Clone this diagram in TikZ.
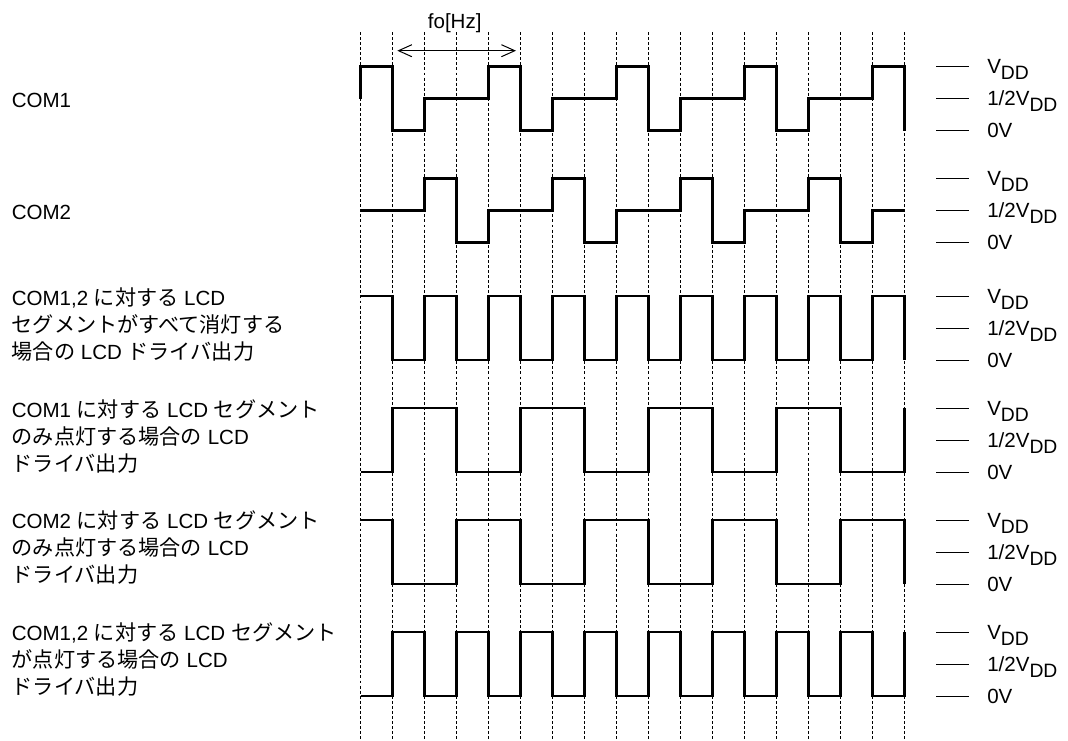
\documentclass[tikz,border=0pt]{standalone}
\usepackage{fontspec}
\setmainfont{Liberation Sans}
\newfontfamily\cjk[Scale=1.03]{Noto Sans CJK JP}
\usetikzlibrary{arrows.meta}
\newcommand\jp[1]{{\cjk #1}}
\newcommand\vdd{V\raisebox{-4.5pt}{\fontsize{14.5pt}{14.5pt}\selectfont DD}}
\begin{document}
\begin{tikzpicture}[x=0.75pt,y=-0.75pt,
  lbl/.style={inner sep=0pt, anchor=base west, font=\fontsize{15.4pt}{20.25pt}\selectfont},
  vlbl/.style={inner sep=0pt, anchor=base west, font=\fontsize{15.4pt}{18pt}\selectfont},
  wave/.style={line width=1.9pt, line join=miter},
  gridline/.style={line width=0.6pt, dash pattern=on 2.2pt off 1.6pt},
  tickline/.style={line width=0.75pt},
  barb/.tip={Straight Barb[length=10pt,width=9pt]}]
\useasboundingbox (0,0) rectangle (1068,740);
\fill[white] (0,0) rectangle (1068,740);

% dashed time grid
\foreach \k in {0,...,17} \draw[gridline] (360.5+32*\k,32) -- (360.5+32*\k,740);

% level ticks and labels
\foreach \r/\t in {1/66.5, 2/178.5, 3/296, 4/408, 5/520, 6/632}{
  \draw[tickline] (936,\t) -- (968.5,\t);
  \draw[tickline] (936,\t+32) -- (968.5,\t+32);
  \draw[tickline] (936,\t+64) -- (968.5,\t+64);
  \node[vlbl] (vdd\r) at (987,\t+7.3) {\vdd};
  \node[vlbl] (half\r) at (987,\t+39.3) {1/2\vdd};
  \node[vlbl] (zero\r) at (987,\t+71.3) {0V};
}

% waveforms
\begin{scope}[shift={(360.5,66.5)}, x=24pt, y=-24pt]
  \draw[wave] (0,1) -- (0,0) -| (1,2) -| (2,1) -| (4,0) -| (5,2) -| (6,1) -| (8,0) -| (9,2) -| (10,1) -| (12,0) -| (13,2) -| (14,1) -| (16,0) -| (17,2);
\end{scope}
\begin{scope}[shift={(360.5,178.5)}, x=24pt, y=-24pt]
  \draw[wave] (0,1) -| (2,0) -| (3,2) -| (4,1) -| (6,0) -| (7,2) -| (8,1) -| (10,0) -| (11,2) -| (12,1) -| (14,0) -| (15,2) -| (16,1) -- (17,1);
\end{scope}
\begin{scope}[shift={(360.5,296)}, x=24pt, y=-24pt]
  \draw[wave] (0,0) -| (1,2) -| (2,0) -| (3,2) -| (4,0) -| (5,2) -| (6,0) -| (7,2) -| (8,0) -| (9,2) -| (10,0) -| (11,2) -| (12,0) -| (13,2) -| (14,0) -| (15,2) -| (16,0) -| (17,2);
\end{scope}
\begin{scope}[shift={(360.5,408)}, x=24pt, y=-24pt]
  \draw[wave] (0,2) -| (1,0) -| (3,2) -| (5,0) -| (7,2) -| (9,0) -| (11,2) -| (13,0) -| (15,2) -| (17,0);
\end{scope}
\begin{scope}[shift={(360.5,520)}, x=24pt, y=-24pt]
  \draw[wave] (0,0) -| (1,2) -| (3,0) -| (5,2) -| (7,0) -| (9,2) -| (11,0) -| (13,2) -| (15,0) -| (17,2);
\end{scope}
\begin{scope}[shift={(360.5,632)}, x=24pt, y=-24pt]
  \draw[wave] (0,2) -| (1,0) -| (2,2) -| (3,0) -| (4,2) -| (5,0) -| (6,2) -| (7,0) -| (8,2) -| (9,0) -| (10,2) -| (11,0) -| (12,2) -| (13,0) -| (14,2) -| (15,0) -| (16,2) -| (17,0);
\end{scope}

% period arrow
\coordinate (fa) at (397.3,50.7);
\coordinate (fb) at (516,50.7);
\draw[line width=0.75pt, barb-barb] (fa) -- (fb);
\node[lbl, anchor=base] (fo) at (454.7,28.3) {fo[Hz]};

% row labels
\node[lbl] (c1) at (11.5,107.5) {COM1};
\node[lbl] (c2) at (11.5,219.3) {COM2};
\node[lbl] (c3) at (11.5,305) {\parbox[t]{330pt}{COM1,2 \jp{に対する} LCD\\\jp{セグメントがすべて消灯する}\\\jp{場合の} LCD \jp{ドライバ出力}}};
\node[lbl] (c4) at (11.5,417) {\parbox[t]{330pt}{COM1 \jp{に対する} LCD \jp{セグメント}\\\jp{のみ点灯する場合の} LCD\\\jp{ドライバ出力}}};
\node[lbl] (c5) at (11.5,528.5) {\parbox[t]{330pt}{COM2 \jp{に対する} LCD \jp{セグメント}\\\jp{のみ点灯する場合の} LCD\\\jp{ドライバ出力}}};
\node[lbl] (c6) at (11.5,640) {\parbox[t]{330pt}{COM1,2 \jp{に対する} LCD \jp{セグメント}\\\jp{が点灯する場合の} LCD\\\jp{ドライバ出力}}};
\end{tikzpicture}
\end{document}
